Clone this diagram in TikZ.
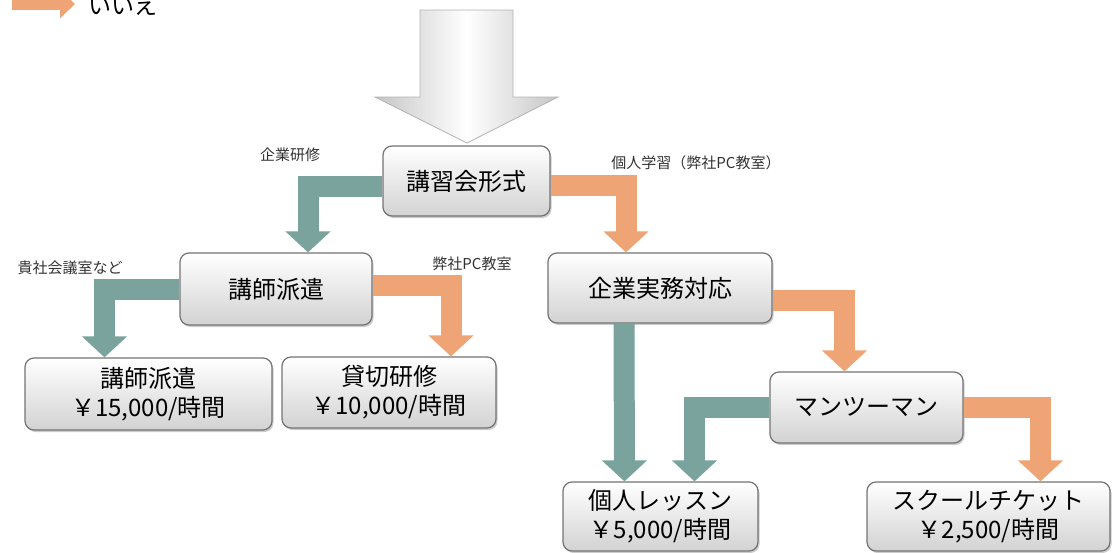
\documentclass[tikz,border=0pt]{standalone}
\usepackage{fontspec}
\setmainfont{Noto Sans CJK JP}
\usetikzlibrary{arrows.meta,shadows}

\definecolor{yesteal}{RGB}{122,163,157}
\definecolor{noorange}{RGB}{238,164,116}
\definecolor{boxedge}{RGB}{115,115,115}
\definecolor{labelgray}{RGB}{50,50,50}

\tikzset{
  stepbox/.style={draw=boxedge, line width=1.2pt, rounded corners=9pt,
    top color=white, bottom color=gray!35,
    drop shadow={shadow xshift=1.5pt, shadow yshift=-2pt, opacity=0.4},
    font=\fontsize{24}{29}\selectfont, align=center, inner sep=0pt},
  fatarrow/.style={line width=21pt, line join=miter, -{Triangle[width=44pt,length=21pt]}},
  yesarrow/.style={fatarrow, draw=yesteal},
  noarrow/.style={fatarrow, draw=noorange},
  branchlabel/.style={font=\fontsize{15}{18}\selectfont, text=labelgray, inner sep=0pt},
}

\begin{document}
\begin{tikzpicture}[x=1pt, y=-1pt]
\useasboundingbox (0,0) rectangle (1112,552);
\clip (0,0) rectangle (1112,552);

% legend (cut at the top)
\coordinate (nostart) at (12,4);
\coordinate (noend) at (75,4);
\draw[draw=noorange, line width=12pt, -{Triangle[width=28pt,length=15pt]}] (nostart) -- (noend);
\node[anchor=base west, font=\fontsize{23}{23}\selectfont, inner sep=0pt] (nolabel) at (88,14) {いいえ};

% big entry arrow
\shade[left color=gray!45, right color=gray!45, middle color=white, draw=gray!60, line width=0.8pt]
  (420,10) -- (513,10) -- (513,97) -- (558,97) -- (467,143) -- (375,97) -- (420,97) -- cycle;

% boxes
\node[stepbox, minimum width=167pt, minimum height=70pt] (koshu) at (466.5,181) {講習会形式};
\node[stepbox, minimum width=192pt, minimum height=72pt] (haken) at (276,289) {講師派遣};
\node[stepbox, minimum width=247pt, minimum height=72pt] (hakenfee) at (148.5,394) {講師派遣\\￥15,000/時間};
\node[stepbox, minimum width=214pt, minimum height=71pt] (kashikiri) at (389,392.5) {貸切研修\\￥10,000/時間};
\node[stepbox, minimum width=224pt, minimum height=70pt] (kigyo) at (660,288) {企業実務対応};
\node[stepbox, minimum width=193pt, minimum height=71pt] (man) at (866.5,407.5) {マンツーマン};
\node[stepbox, minimum width=195pt, minimum height=69pt] (kojin) at (660.5,516.5) {個人レッスン\\￥5,000/時間};
\node[stepbox, minimum width=243pt, minimum height=69pt] (school) at (988.5,516.5) {スクールチケット\\￥2,500/時間};

% branches
\draw[yesarrow] ([yshift=-5pt]koshu.west) -| ([xshift=32pt]haken.north);
\draw[noarrow] ([yshift=-4pt]koshu.east) -| ([xshift=-34pt]kigyo.north);
\draw[yesarrow] (haken.west) -| ([xshift=-44pt]hakenfee.north);
\draw[noarrow] ([yshift=4pt]haken.east) -| ([xshift=62pt]kashikiri.north);
\draw[yesarrow] ([xshift=-36pt]kigyo.south) -- ([xshift=-36pt]kojin.north);
\draw[noarrow] ([yshift=-12pt]kigyo.east) -| ([xshift=-22pt]man.north);
\draw[yesarrow] (man.west) -| ([xshift=34pt]kojin.north);
\draw[noarrow] (man.east) -| ([xshift=52pt]school.north);

% branch labels
\node[branchlabel] (kensyu) at (290,155) {企業研修};
\node[branchlabel] (kojinlabel) at (696,163) {個人学習（弊社PC教室）};
\node[branchlabel] (kishalabel) at (70,268) {貴社会議室など};
\node[branchlabel] (heishalabel) at (472,264) {弊社PC教室};

\end{tikzpicture}
\end{document}
